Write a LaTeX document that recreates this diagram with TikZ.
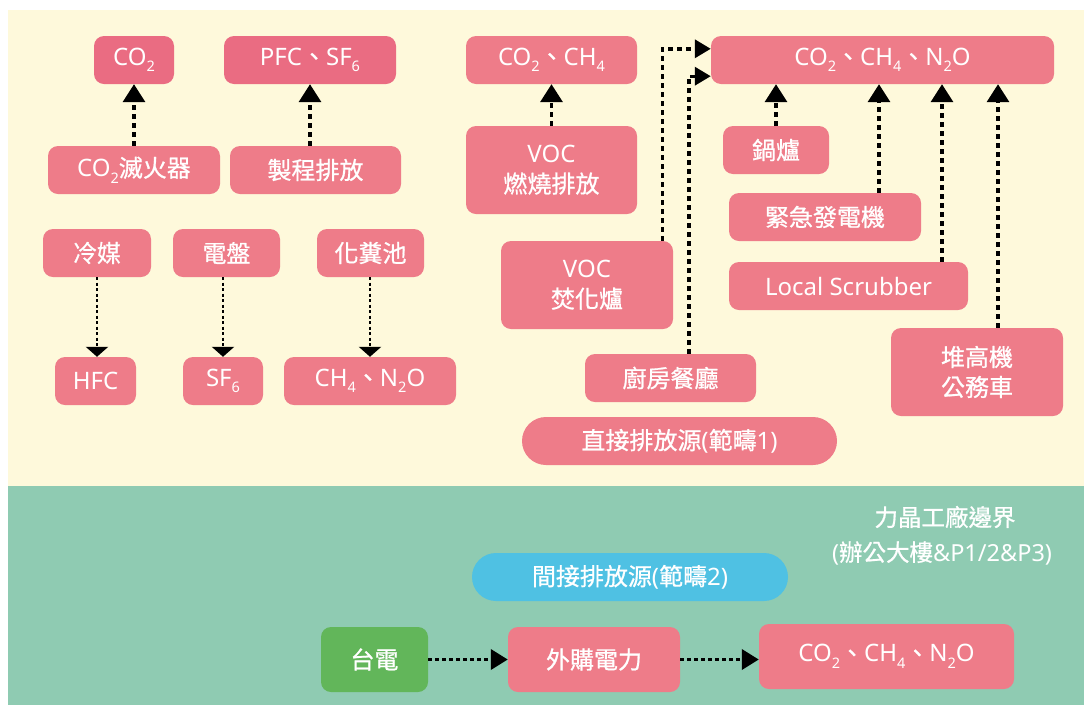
\documentclass[tikz,border=0pt]{standalone}
\usepackage{fontspec}
\setmainfont{Noto Sans}
\newfontfamily\cjk[FakeBold=0.8]{Noto Sans CJK TC}
\usetikzlibrary{arrows.meta}
\definecolor{creambg}{HTML}{FEF9DB}
\definecolor{greenbg}{HTML}{8FCBB2}
\definecolor{pinkA}{HTML}{EE7C89}
\definecolor{pinkB}{HTML}{EA6C82}
\definecolor{bluepill}{HTML}{4FC1E3}
\definecolor{greenbox}{HTML}{62B65A}
\newcommand\sub[1]{\raisebox{-6.5pt}{\fontsize{14.5}{14.5}\selectfont #1}}
\begin{document}
\begin{tikzpicture}[x=1pt,y=-1pt,
  box/.style={rectangle,rounded corners=10pt,fill=pinkA,text=white,inner sep=0pt,
    minimum height=48pt,align=center,font=\fontsize{24}{30}\selectfont},
  darkbox/.style={box,fill=pinkB},
  pill/.style={box,rounded corners=24pt},
  bdtext/.style={text=white,inner sep=0pt,font=\fontsize{23.5}{28}\selectfont},
  uparrow/.style={line width=3.4pt,dash pattern=on 5pt off 4pt,-{Triangle[width=22pt,length=18pt]}},
  elbow/.style={line width=3.4pt,dash pattern=on 5pt off 4pt,-{Triangle[width=18pt,length=16pt]}},
  downarrow/.style={line width=2.3pt,dash pattern=on 3pt off 2.5pt,-{Triangle[width=22pt,length=10pt]}},
  hzarrow/.style={line width=3.6pt,dash pattern=on 4pt off 3pt,-{Triangle[width=20pt,length=17pt]}}]
\useasboundingbox (0,0) rectangle (1084,705);
\fill[white] (0,0) rectangle (1084,705);
\fill[creambg] (8,10) rectangle (1084,486);
\fill[greenbg] (8,486) rectangle (1084,705);

% left part
\node[darkbox,minimum width=80pt] (co2a) at (134,60) {CO\sub{2}};
\node[darkbox,minimum width=172pt] (pfc) at (310,60) {PFC{\cjk 、}SF\sub{6}};
\node[box,minimum width=172pt] (ext) at (134,170) {CO\sub{2}{\cjk 滅火器}};
\node[box,minimum width=171pt] (proc) at (315.5,170) {\cjk 製程排放};
\node[box,minimum width=108pt] (refr) at (97,253) {\cjk 冷媒};
\node[box,minimum width=107pt] (panel) at (226.5,253) {\cjk 電盤};
\node[box,minimum width=107pt] (septic) at (370.5,253) {\cjk 化糞池};
\node[box,minimum width=81pt] (hfc) at (95.5,381) {HFC};
\node[box,minimum width=80pt] (sf6) at (223,381) {SF\sub{6}};
\node[box,minimum width=172pt] (chn) at (370,381) {CH\sub{4}{\cjk 、}N\sub{2}O};

\draw[uparrow] (ext.north) -- (co2a.south);
\draw[uparrow] (pfc.south |- proc.north) -- (pfc.south);
\draw[downarrow] (refr.south) -- (refr.south |- hfc.north);
\draw[downarrow] (sf6.north |- panel.south) -- (sf6.north);
\draw[downarrow] (chn.north |- septic.south) -- (chn.north);

% right part
\node[box,minimum width=171pt] (cc) at (551.5,60) {CO\sub{2}{\cjk 、}CH\sub{4}};
\node[box,minimum width=171pt,minimum height=88pt] (voc1) at (551.5,170) {VOC\\{\cjk 燃燒排放}};
\node[box,minimum width=343pt] (big) at (882.5,60) {CO\sub{2}{\cjk 、}CH\sub{4}{\cjk 、}N\sub{2}O};
\node[box,minimum width=106pt] (boiler) at (776,150) {\cjk 鍋爐};
\node[box,minimum width=192pt] (gen) at (825,217) {\cjk 緊急發電機};
\node[box,minimum width=239pt] (scrub) at (848.5,286) {Local Scrubber};
\node[box,minimum width=172pt,minimum height=88pt] (voc2) at (587,285) {VOC\\{\cjk 焚化爐}};
\node[box,minimum width=171pt] (kitchen) at (670.5,378) {\cjk 廚房餐廳};
\node[box,minimum width=172pt,minimum height=88pt] (fork) at (977,372) {{\cjk 堆高機}\\{\cjk 公務車}};
\node[pill,minimum width=315pt] (s1) at (679.5,441) {{\cjk 直接排放源}({\cjk 範疇}1)};

\coordinate (g1) at ([xshift=54pt]gen.north);
\coordinate (sc1) at ([xshift=93.5pt]scrub.north);
\coordinate (f1) at ([xshift=21pt]fork.north);
\draw[uparrow] (voc1.north) -- (voc1.north |- cc.south);
\draw[elbow] ([xshift=-11pt]voc2.north east) |- ([yshift=-13pt]big.north west);
\draw[elbow] ([xshift=18.5pt]kitchen.north) |- ([yshift=8pt]big.south west);
\draw[uparrow] (boiler.north) -- (boiler.north |- big.south);
\draw[uparrow] (g1) -- (g1 |- big.south);
\draw[uparrow] (sc1) -- (sc1 |- big.south);
\draw[uparrow] (f1) -- (f1 |- big.south);

% bottom part
\node[bdtext] (bd1) at (945,517) {\cjk 力晶工廠邊界};
\node[bdtext] (bd2) at (942,553) {({\cjk 辦公大樓}\&P1/2\&P3)};
\node[pill,fill=bluepill,minimum width=316pt] (s2) at (630,577) {{\cjk 間接排放源}({\cjk 範疇}2)};
\node[box,fill=greenbox,minimum width=107pt,minimum height=65pt] (tp) at (374.5,659.5) {\cjk 台電};
\node[box,minimum width=172pt,minimum height=65pt] (buy) at (594,659.5) {\cjk 外購電力};
\node[box,minimum width=255pt,minimum height=65pt] (co2c) at (886.5,656.5) {CO\sub{2}{\cjk 、}CH\sub{4}{\cjk 、}N\sub{2}O};
\draw[hzarrow] (tp.east) -- (buy.west);
\draw[hzarrow] (buy.east) -- (buy.east -| co2c.west);
\end{tikzpicture}
\end{document}
